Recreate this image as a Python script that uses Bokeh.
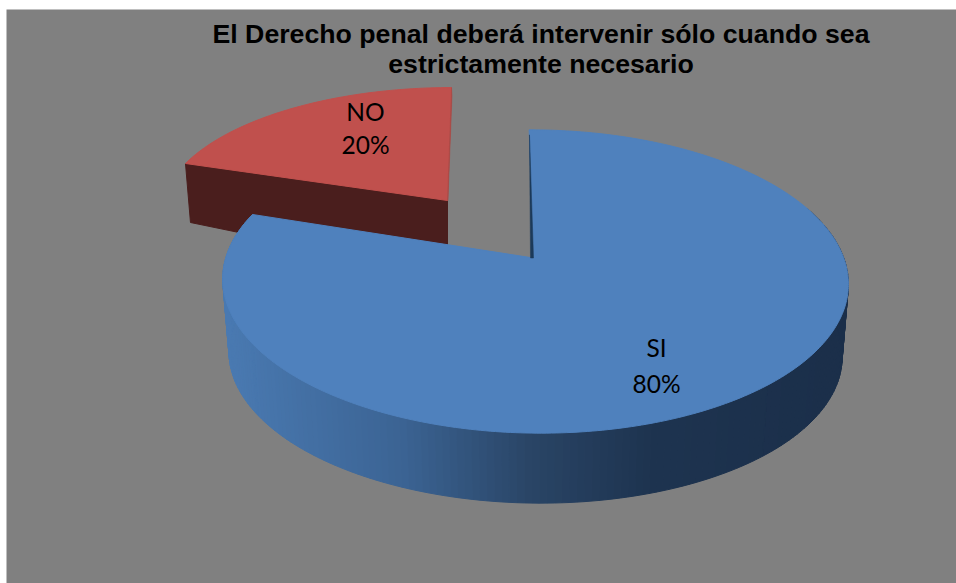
import numpy as np
from bokeh.plotting import figure
from bokeh.models import Range1d
from bokeh.core.properties import value
from bokeh.embed import file_html
from bokeh.resources import INLINE

title_lines = ["El Derecho penal deberá intervenir sólo cuando sea", "estrictamente necesario"]
categories = ["SI", "NO"]
shares = [80, 20]

BG = "#808080"
BLUE, RED = "#4f81bd", "#c0504d"
RED_FRONT, RED_EDGE, BLUE_EDGE = "#4a1e1d", "#a94a47", "#1c3a5a"
SIDE_X = [225, 400, 530, 650, 848]
SIDE_RGB = [(74, 122, 178), (60, 100, 148), (42, 69, 102), (30, 52, 80), (27, 47, 74)]

# Pie projection: unit circle to the picture through a perspective map
BLUE_G = dict(ax=533, ay=257.5, A=309, B=148, s=-5, wu=-0.004, wv=0.155)
RED_G = dict(ax=447, ay=200, A=284.5, B=123, s=4.4, wu=0, wv=0.089)
BLUE_DEPTH, BLUE_SCALE = 73.5, 0.98
RED_DEPTH, RED_SCALE = 75, 0.9


def project(deg, g):
    t = np.radians(deg)
    u, v = np.sin(t), np.cos(t)
    d = 1 + g["wu"] * u + g["wv"] * v
    return g["ax"] + (g["A"] * u + g["s"] * v) / d, g["ay"] - g["B"] * v / d


def lower(deg, g, depth, scale):
    x, y = project(deg, g)
    return g["ax"] + 2 + (x - g["ax"] - 2) * scale, g["ay"] + depth + (y - g["ay"]) * scale


p = figure(width=950, height=574, margin=(9, 0, 0, 6), output_backend="svg", toolbar_location=None,
           x_range=Range1d(6, 956), y_range=Range1d(583, 9), x_axis_type="linear",
           min_border=0, outline_line_color=None, background_fill_color=BG, border_fill_color=BG)
p.axis.visible = False
p.grid.visible = False

stops = np.cumsum([0] + shares) / sum(shares) * 360
a0, a1 = stops[0], stops[1]
b0, b1 = stops[1], stops[2]

# NO slice: front wall, thin side wall, top
x0, y0 = project(b0, RED_G)
rx_end, ry_end = project(b1, RED_G)
lx0 = x0 + 5
ly0 = y0 + 59
p.patch([RED_G["ax"], x0, lx0, RED_G["ax"]], [RED_G["ay"], y0, ly0, RED_G["ay"] + RED_DEPTH],
        fill_color=RED_FRONT, line_color=RED_FRONT)
arc = np.linspace(b0, b1, 60)
xs, ys = project(arc, RED_G)
p.patch(np.r_[RED_G["ax"], xs], np.r_[RED_G["ay"], ys], fill_color=RED, line_color=RED)
p.patch([rx_end, rx_end + 0.5, RED_G["ax"] + 0.5, RED_G["ax"]],
        [ry_end, ry_end + 8, RED_G["ay"], RED_G["ay"]],
        fill_color=RED_EDGE, line_color=RED_EDGE, line_width=0.5)

# SI slice: curved side as a gradient, edge wall, top
steps = np.linspace(a0, a1, 241)
sx, sy, cols = [], [], []
for s0, s1 in zip(steps[:-1], steps[1:]):
    tx0, ty0 = project(s0, BLUE_G)
    tx1, ty1 = project(s1, BLUE_G)
    lx_0, ly_0 = lower(s0, BLUE_G, BLUE_DEPTH, BLUE_SCALE)
    lx_1, ly_1 = lower(s1, BLUE_G, BLUE_DEPTH, BLUE_SCALE)
    if np.cos(np.radians((s0 + s1) / 2)) > 0.35:
        continue
    sx.append([tx0, tx1, lx_1, lx_0])
    sy.append([ty0, ty1, ly_1, ly_0])
    mx = (tx0 + tx1) / 2
    rgb = [int(np.interp(mx, SIDE_X, [c[i] for c in SIDE_RGB])) for i in range(3)]
    cols.append("#%02x%02x%02x" % tuple(rgb))
p.patches(sx, sy, fill_color=cols, line_color=cols, line_width=1)

arc = np.linspace(a0, a1, 360)
xs, ys = project(arc, BLUE_G)
tx, ty = project(a0, BLUE_G)
p.patch(np.r_[BLUE_G["ax"], xs], np.r_[BLUE_G["ay"], ys], fill_color=BLUE, line_color=BLUE)
p.patch([tx + 0.3, BLUE_G["ax"] - 3, BLUE_G["ax"]], [ty + 5, BLUE_G["ay"], BLUE_G["ay"]],
        fill_color=BLUE_EDGE, line_color=BLUE_EDGE, line_width=0.5)

# Labels
label_font = value("Lato")
label_xy = [(656, 347, 383), (365, 111, 144)]
for cat, sh, (lx, ly1, ly2) in zip(categories, shares, label_xy):
    p.text([lx], [ly1], text=[cat], text_font=label_font, text_font_size="24.5px",
           text_align="center", text_baseline="middle", text_color="#000000")
    p.text([lx], [ly2], text=[f"{sh}%"], text_font=label_font, text_font_size="24.5px",
           text_align="center", text_baseline="middle", text_color="#000000")

# Title
for line, ty_ in zip(title_lines, [33, 63]):
    p.text([540.5], [ty_], text=[line], text_font=value("Liberation Sans"), text_font_style="bold",
           text_font_size="26.7px", text_align="center", text_baseline="middle", text_color="#000000")

open("out.html", "w").write(file_html(p, INLINE))
